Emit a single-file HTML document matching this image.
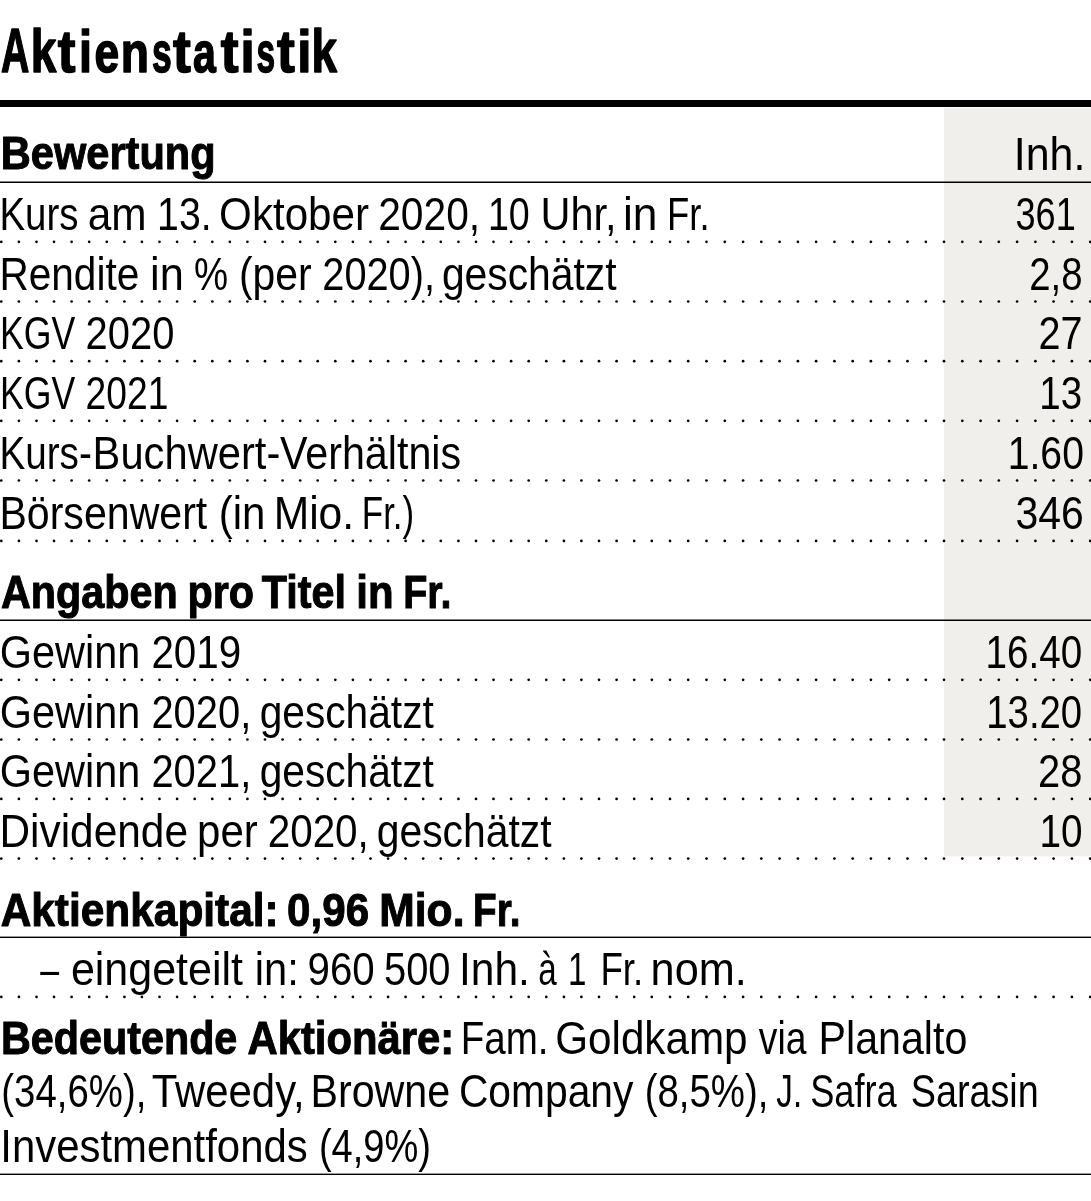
<!DOCTYPE html>
<html lang="de"><head><meta charset="utf-8"><title>Aktienstatistik</title>
<style>html,body{margin:0;padding:0;background:#fff;overflow:hidden}svg{display:block}text{font-family:"Liberation Sans",Arial,sans-serif;fill:#000}</style></head><body>
<svg width="1091" height="1201" viewBox="0 0 1091 1201">
<rect x="944" y="107.8" width="147" height="748.5" fill="#f0efeb"/>
<rect x="0" y="100" width="1091" height="7" fill="#000"/>
<rect x="0" y="181.5" width="1091" height="1.5" fill="#000"/>
<rect x="0" y="619.5" width="1091" height="1.5" fill="#000"/>
<rect x="0" y="936.6" width="1091" height="1.4" fill="#000"/>
<rect x="0" y="1173.6" width="1091" height="1.4" fill="#000"/>
<g fill="#000"><circle cx="1.3" cy="241.8" r="1.35"/><circle cx="18.9" cy="241.8" r="1.35"/><circle cx="36.5" cy="241.8" r="1.35"/><circle cx="54.0" cy="241.8" r="1.35"/><circle cx="71.6" cy="241.8" r="1.35"/><circle cx="89.2" cy="241.8" r="1.35"/><circle cx="106.8" cy="241.8" r="1.35"/><circle cx="124.4" cy="241.8" r="1.35"/><circle cx="141.9" cy="241.8" r="1.35"/><circle cx="159.5" cy="241.8" r="1.35"/><circle cx="177.1" cy="241.8" r="1.35"/><circle cx="194.7" cy="241.8" r="1.35"/><circle cx="212.3" cy="241.8" r="1.35"/><circle cx="229.8" cy="241.8" r="1.35"/><circle cx="247.4" cy="241.8" r="1.35"/><circle cx="265.0" cy="241.8" r="1.35"/><circle cx="282.6" cy="241.8" r="1.35"/><circle cx="300.2" cy="241.8" r="1.35"/><circle cx="317.7" cy="241.8" r="1.35"/><circle cx="335.3" cy="241.8" r="1.35"/><circle cx="352.9" cy="241.8" r="1.35"/><circle cx="370.5" cy="241.8" r="1.35"/><circle cx="388.1" cy="241.8" r="1.35"/><circle cx="405.6" cy="241.8" r="1.35"/><circle cx="423.2" cy="241.8" r="1.35"/><circle cx="440.8" cy="241.8" r="1.35"/><circle cx="458.4" cy="241.8" r="1.35"/><circle cx="476.0" cy="241.8" r="1.35"/><circle cx="493.5" cy="241.8" r="1.35"/><circle cx="511.1" cy="241.8" r="1.35"/><circle cx="528.7" cy="241.8" r="1.35"/><circle cx="546.3" cy="241.8" r="1.35"/><circle cx="563.9" cy="241.8" r="1.35"/><circle cx="581.4" cy="241.8" r="1.35"/><circle cx="599.0" cy="241.8" r="1.35"/><circle cx="616.6" cy="241.8" r="1.35"/><circle cx="634.2" cy="241.8" r="1.35"/><circle cx="651.8" cy="241.8" r="1.35"/><circle cx="670.0" cy="241.8" r="1.35"/><circle cx="688.2" cy="241.8" r="1.35"/><circle cx="706.5" cy="241.8" r="1.35"/><circle cx="724.8" cy="241.8" r="1.35"/><circle cx="743.1" cy="241.8" r="1.35"/><circle cx="761.3" cy="241.8" r="1.35"/><circle cx="779.6" cy="241.8" r="1.35"/><circle cx="797.9" cy="241.8" r="1.35"/><circle cx="816.1" cy="241.8" r="1.35"/><circle cx="834.4" cy="241.8" r="1.35"/><circle cx="852.7" cy="241.8" r="1.35"/><circle cx="870.9" cy="241.8" r="1.35"/><circle cx="889.2" cy="241.8" r="1.35"/><circle cx="907.5" cy="241.8" r="1.35"/><circle cx="925.8" cy="241.8" r="1.35"/><circle cx="944.0" cy="241.8" r="1.35"/><circle cx="962.3" cy="241.8" r="1.35"/><circle cx="980.6" cy="241.8" r="1.35"/><circle cx="998.8" cy="241.8" r="1.35"/><circle cx="1017.1" cy="241.8" r="1.35"/><circle cx="1035.4" cy="241.8" r="1.35"/><circle cx="1053.6" cy="241.8" r="1.35"/><circle cx="1071.9" cy="241.8" r="1.35"/><circle cx="1090.2" cy="241.8" r="1.35"/><circle cx="1.3" cy="301.5" r="1.35"/><circle cx="18.9" cy="301.5" r="1.35"/><circle cx="36.5" cy="301.5" r="1.35"/><circle cx="54.0" cy="301.5" r="1.35"/><circle cx="71.6" cy="301.5" r="1.35"/><circle cx="89.2" cy="301.5" r="1.35"/><circle cx="106.8" cy="301.5" r="1.35"/><circle cx="124.4" cy="301.5" r="1.35"/><circle cx="141.9" cy="301.5" r="1.35"/><circle cx="159.5" cy="301.5" r="1.35"/><circle cx="177.1" cy="301.5" r="1.35"/><circle cx="194.7" cy="301.5" r="1.35"/><circle cx="212.3" cy="301.5" r="1.35"/><circle cx="229.8" cy="301.5" r="1.35"/><circle cx="247.4" cy="301.5" r="1.35"/><circle cx="265.0" cy="301.5" r="1.35"/><circle cx="282.6" cy="301.5" r="1.35"/><circle cx="300.2" cy="301.5" r="1.35"/><circle cx="317.7" cy="301.5" r="1.35"/><circle cx="335.3" cy="301.5" r="1.35"/><circle cx="352.9" cy="301.5" r="1.35"/><circle cx="370.5" cy="301.5" r="1.35"/><circle cx="388.1" cy="301.5" r="1.35"/><circle cx="405.6" cy="301.5" r="1.35"/><circle cx="423.2" cy="301.5" r="1.35"/><circle cx="440.8" cy="301.5" r="1.35"/><circle cx="458.4" cy="301.5" r="1.35"/><circle cx="476.0" cy="301.5" r="1.35"/><circle cx="493.5" cy="301.5" r="1.35"/><circle cx="511.1" cy="301.5" r="1.35"/><circle cx="528.7" cy="301.5" r="1.35"/><circle cx="546.3" cy="301.5" r="1.35"/><circle cx="563.9" cy="301.5" r="1.35"/><circle cx="581.4" cy="301.5" r="1.35"/><circle cx="599.0" cy="301.5" r="1.35"/><circle cx="616.6" cy="301.5" r="1.35"/><circle cx="634.2" cy="301.5" r="1.35"/><circle cx="651.8" cy="301.5" r="1.35"/><circle cx="670.0" cy="301.5" r="1.35"/><circle cx="688.2" cy="301.5" r="1.35"/><circle cx="706.5" cy="301.5" r="1.35"/><circle cx="724.8" cy="301.5" r="1.35"/><circle cx="743.1" cy="301.5" r="1.35"/><circle cx="761.3" cy="301.5" r="1.35"/><circle cx="779.6" cy="301.5" r="1.35"/><circle cx="797.9" cy="301.5" r="1.35"/><circle cx="816.1" cy="301.5" r="1.35"/><circle cx="834.4" cy="301.5" r="1.35"/><circle cx="852.7" cy="301.5" r="1.35"/><circle cx="870.9" cy="301.5" r="1.35"/><circle cx="889.2" cy="301.5" r="1.35"/><circle cx="907.5" cy="301.5" r="1.35"/><circle cx="925.8" cy="301.5" r="1.35"/><circle cx="944.0" cy="301.5" r="1.35"/><circle cx="962.3" cy="301.5" r="1.35"/><circle cx="980.6" cy="301.5" r="1.35"/><circle cx="998.8" cy="301.5" r="1.35"/><circle cx="1017.1" cy="301.5" r="1.35"/><circle cx="1035.4" cy="301.5" r="1.35"/><circle cx="1053.6" cy="301.5" r="1.35"/><circle cx="1071.9" cy="301.5" r="1.35"/><circle cx="1090.2" cy="301.5" r="1.35"/><circle cx="1.3" cy="361.2" r="1.35"/><circle cx="18.9" cy="361.2" r="1.35"/><circle cx="36.5" cy="361.2" r="1.35"/><circle cx="54.0" cy="361.2" r="1.35"/><circle cx="71.6" cy="361.2" r="1.35"/><circle cx="89.2" cy="361.2" r="1.35"/><circle cx="106.8" cy="361.2" r="1.35"/><circle cx="124.4" cy="361.2" r="1.35"/><circle cx="141.9" cy="361.2" r="1.35"/><circle cx="159.5" cy="361.2" r="1.35"/><circle cx="177.1" cy="361.2" r="1.35"/><circle cx="194.7" cy="361.2" r="1.35"/><circle cx="212.3" cy="361.2" r="1.35"/><circle cx="229.8" cy="361.2" r="1.35"/><circle cx="247.4" cy="361.2" r="1.35"/><circle cx="265.0" cy="361.2" r="1.35"/><circle cx="282.6" cy="361.2" r="1.35"/><circle cx="300.2" cy="361.2" r="1.35"/><circle cx="317.7" cy="361.2" r="1.35"/><circle cx="335.3" cy="361.2" r="1.35"/><circle cx="352.9" cy="361.2" r="1.35"/><circle cx="370.5" cy="361.2" r="1.35"/><circle cx="388.1" cy="361.2" r="1.35"/><circle cx="405.6" cy="361.2" r="1.35"/><circle cx="423.2" cy="361.2" r="1.35"/><circle cx="440.8" cy="361.2" r="1.35"/><circle cx="458.4" cy="361.2" r="1.35"/><circle cx="476.0" cy="361.2" r="1.35"/><circle cx="493.5" cy="361.2" r="1.35"/><circle cx="511.1" cy="361.2" r="1.35"/><circle cx="528.7" cy="361.2" r="1.35"/><circle cx="546.3" cy="361.2" r="1.35"/><circle cx="563.9" cy="361.2" r="1.35"/><circle cx="581.4" cy="361.2" r="1.35"/><circle cx="599.0" cy="361.2" r="1.35"/><circle cx="616.6" cy="361.2" r="1.35"/><circle cx="634.2" cy="361.2" r="1.35"/><circle cx="651.8" cy="361.2" r="1.35"/><circle cx="670.0" cy="361.2" r="1.35"/><circle cx="688.2" cy="361.2" r="1.35"/><circle cx="706.5" cy="361.2" r="1.35"/><circle cx="724.8" cy="361.2" r="1.35"/><circle cx="743.1" cy="361.2" r="1.35"/><circle cx="761.3" cy="361.2" r="1.35"/><circle cx="779.6" cy="361.2" r="1.35"/><circle cx="797.9" cy="361.2" r="1.35"/><circle cx="816.1" cy="361.2" r="1.35"/><circle cx="834.4" cy="361.2" r="1.35"/><circle cx="852.7" cy="361.2" r="1.35"/><circle cx="870.9" cy="361.2" r="1.35"/><circle cx="889.2" cy="361.2" r="1.35"/><circle cx="907.5" cy="361.2" r="1.35"/><circle cx="925.8" cy="361.2" r="1.35"/><circle cx="944.0" cy="361.2" r="1.35"/><circle cx="962.3" cy="361.2" r="1.35"/><circle cx="980.6" cy="361.2" r="1.35"/><circle cx="998.8" cy="361.2" r="1.35"/><circle cx="1017.1" cy="361.2" r="1.35"/><circle cx="1035.4" cy="361.2" r="1.35"/><circle cx="1053.6" cy="361.2" r="1.35"/><circle cx="1071.9" cy="361.2" r="1.35"/><circle cx="1090.2" cy="361.2" r="1.35"/><circle cx="1.3" cy="420.8" r="1.35"/><circle cx="18.9" cy="420.8" r="1.35"/><circle cx="36.5" cy="420.8" r="1.35"/><circle cx="54.0" cy="420.8" r="1.35"/><circle cx="71.6" cy="420.8" r="1.35"/><circle cx="89.2" cy="420.8" r="1.35"/><circle cx="106.8" cy="420.8" r="1.35"/><circle cx="124.4" cy="420.8" r="1.35"/><circle cx="141.9" cy="420.8" r="1.35"/><circle cx="159.5" cy="420.8" r="1.35"/><circle cx="177.1" cy="420.8" r="1.35"/><circle cx="194.7" cy="420.8" r="1.35"/><circle cx="212.3" cy="420.8" r="1.35"/><circle cx="229.8" cy="420.8" r="1.35"/><circle cx="247.4" cy="420.8" r="1.35"/><circle cx="265.0" cy="420.8" r="1.35"/><circle cx="282.6" cy="420.8" r="1.35"/><circle cx="300.2" cy="420.8" r="1.35"/><circle cx="317.7" cy="420.8" r="1.35"/><circle cx="335.3" cy="420.8" r="1.35"/><circle cx="352.9" cy="420.8" r="1.35"/><circle cx="370.5" cy="420.8" r="1.35"/><circle cx="388.1" cy="420.8" r="1.35"/><circle cx="405.6" cy="420.8" r="1.35"/><circle cx="423.2" cy="420.8" r="1.35"/><circle cx="440.8" cy="420.8" r="1.35"/><circle cx="458.4" cy="420.8" r="1.35"/><circle cx="476.0" cy="420.8" r="1.35"/><circle cx="493.5" cy="420.8" r="1.35"/><circle cx="511.1" cy="420.8" r="1.35"/><circle cx="528.7" cy="420.8" r="1.35"/><circle cx="546.3" cy="420.8" r="1.35"/><circle cx="563.9" cy="420.8" r="1.35"/><circle cx="581.4" cy="420.8" r="1.35"/><circle cx="599.0" cy="420.8" r="1.35"/><circle cx="616.6" cy="420.8" r="1.35"/><circle cx="634.2" cy="420.8" r="1.35"/><circle cx="651.8" cy="420.8" r="1.35"/><circle cx="670.0" cy="420.8" r="1.35"/><circle cx="688.2" cy="420.8" r="1.35"/><circle cx="706.5" cy="420.8" r="1.35"/><circle cx="724.8" cy="420.8" r="1.35"/><circle cx="743.1" cy="420.8" r="1.35"/><circle cx="761.3" cy="420.8" r="1.35"/><circle cx="779.6" cy="420.8" r="1.35"/><circle cx="797.9" cy="420.8" r="1.35"/><circle cx="816.1" cy="420.8" r="1.35"/><circle cx="834.4" cy="420.8" r="1.35"/><circle cx="852.7" cy="420.8" r="1.35"/><circle cx="870.9" cy="420.8" r="1.35"/><circle cx="889.2" cy="420.8" r="1.35"/><circle cx="907.5" cy="420.8" r="1.35"/><circle cx="925.8" cy="420.8" r="1.35"/><circle cx="944.0" cy="420.8" r="1.35"/><circle cx="962.3" cy="420.8" r="1.35"/><circle cx="980.6" cy="420.8" r="1.35"/><circle cx="998.8" cy="420.8" r="1.35"/><circle cx="1017.1" cy="420.8" r="1.35"/><circle cx="1035.4" cy="420.8" r="1.35"/><circle cx="1053.6" cy="420.8" r="1.35"/><circle cx="1071.9" cy="420.8" r="1.35"/><circle cx="1090.2" cy="420.8" r="1.35"/><circle cx="1.3" cy="480.5" r="1.35"/><circle cx="18.9" cy="480.5" r="1.35"/><circle cx="36.5" cy="480.5" r="1.35"/><circle cx="54.0" cy="480.5" r="1.35"/><circle cx="71.6" cy="480.5" r="1.35"/><circle cx="89.2" cy="480.5" r="1.35"/><circle cx="106.8" cy="480.5" r="1.35"/><circle cx="124.4" cy="480.5" r="1.35"/><circle cx="141.9" cy="480.5" r="1.35"/><circle cx="159.5" cy="480.5" r="1.35"/><circle cx="177.1" cy="480.5" r="1.35"/><circle cx="194.7" cy="480.5" r="1.35"/><circle cx="212.3" cy="480.5" r="1.35"/><circle cx="229.8" cy="480.5" r="1.35"/><circle cx="247.4" cy="480.5" r="1.35"/><circle cx="265.0" cy="480.5" r="1.35"/><circle cx="282.6" cy="480.5" r="1.35"/><circle cx="300.2" cy="480.5" r="1.35"/><circle cx="317.7" cy="480.5" r="1.35"/><circle cx="335.3" cy="480.5" r="1.35"/><circle cx="352.9" cy="480.5" r="1.35"/><circle cx="370.5" cy="480.5" r="1.35"/><circle cx="388.1" cy="480.5" r="1.35"/><circle cx="405.6" cy="480.5" r="1.35"/><circle cx="423.2" cy="480.5" r="1.35"/><circle cx="440.8" cy="480.5" r="1.35"/><circle cx="458.4" cy="480.5" r="1.35"/><circle cx="476.0" cy="480.5" r="1.35"/><circle cx="493.5" cy="480.5" r="1.35"/><circle cx="511.1" cy="480.5" r="1.35"/><circle cx="528.7" cy="480.5" r="1.35"/><circle cx="546.3" cy="480.5" r="1.35"/><circle cx="563.9" cy="480.5" r="1.35"/><circle cx="581.4" cy="480.5" r="1.35"/><circle cx="599.0" cy="480.5" r="1.35"/><circle cx="616.6" cy="480.5" r="1.35"/><circle cx="634.2" cy="480.5" r="1.35"/><circle cx="651.8" cy="480.5" r="1.35"/><circle cx="670.0" cy="480.5" r="1.35"/><circle cx="688.2" cy="480.5" r="1.35"/><circle cx="706.5" cy="480.5" r="1.35"/><circle cx="724.8" cy="480.5" r="1.35"/><circle cx="743.1" cy="480.5" r="1.35"/><circle cx="761.3" cy="480.5" r="1.35"/><circle cx="779.6" cy="480.5" r="1.35"/><circle cx="797.9" cy="480.5" r="1.35"/><circle cx="816.1" cy="480.5" r="1.35"/><circle cx="834.4" cy="480.5" r="1.35"/><circle cx="852.7" cy="480.5" r="1.35"/><circle cx="870.9" cy="480.5" r="1.35"/><circle cx="889.2" cy="480.5" r="1.35"/><circle cx="907.5" cy="480.5" r="1.35"/><circle cx="925.8" cy="480.5" r="1.35"/><circle cx="944.0" cy="480.5" r="1.35"/><circle cx="962.3" cy="480.5" r="1.35"/><circle cx="980.6" cy="480.5" r="1.35"/><circle cx="998.8" cy="480.5" r="1.35"/><circle cx="1017.1" cy="480.5" r="1.35"/><circle cx="1035.4" cy="480.5" r="1.35"/><circle cx="1053.6" cy="480.5" r="1.35"/><circle cx="1071.9" cy="480.5" r="1.35"/><circle cx="1090.2" cy="480.5" r="1.35"/><circle cx="1.3" cy="540.9" r="1.35"/><circle cx="18.9" cy="540.9" r="1.35"/><circle cx="36.5" cy="540.9" r="1.35"/><circle cx="54.0" cy="540.9" r="1.35"/><circle cx="71.6" cy="540.9" r="1.35"/><circle cx="89.2" cy="540.9" r="1.35"/><circle cx="106.8" cy="540.9" r="1.35"/><circle cx="124.4" cy="540.9" r="1.35"/><circle cx="141.9" cy="540.9" r="1.35"/><circle cx="159.5" cy="540.9" r="1.35"/><circle cx="177.1" cy="540.9" r="1.35"/><circle cx="194.7" cy="540.9" r="1.35"/><circle cx="212.3" cy="540.9" r="1.35"/><circle cx="229.8" cy="540.9" r="1.35"/><circle cx="247.4" cy="540.9" r="1.35"/><circle cx="265.0" cy="540.9" r="1.35"/><circle cx="282.6" cy="540.9" r="1.35"/><circle cx="300.2" cy="540.9" r="1.35"/><circle cx="317.7" cy="540.9" r="1.35"/><circle cx="335.3" cy="540.9" r="1.35"/><circle cx="352.9" cy="540.9" r="1.35"/><circle cx="370.5" cy="540.9" r="1.35"/><circle cx="388.1" cy="540.9" r="1.35"/><circle cx="405.6" cy="540.9" r="1.35"/><circle cx="423.2" cy="540.9" r="1.35"/><circle cx="440.8" cy="540.9" r="1.35"/><circle cx="458.4" cy="540.9" r="1.35"/><circle cx="476.0" cy="540.9" r="1.35"/><circle cx="493.5" cy="540.9" r="1.35"/><circle cx="511.1" cy="540.9" r="1.35"/><circle cx="528.7" cy="540.9" r="1.35"/><circle cx="546.3" cy="540.9" r="1.35"/><circle cx="563.9" cy="540.9" r="1.35"/><circle cx="581.4" cy="540.9" r="1.35"/><circle cx="599.0" cy="540.9" r="1.35"/><circle cx="616.6" cy="540.9" r="1.35"/><circle cx="634.2" cy="540.9" r="1.35"/><circle cx="651.8" cy="540.9" r="1.35"/><circle cx="670.0" cy="540.9" r="1.35"/><circle cx="688.2" cy="540.9" r="1.35"/><circle cx="706.5" cy="540.9" r="1.35"/><circle cx="724.8" cy="540.9" r="1.35"/><circle cx="743.1" cy="540.9" r="1.35"/><circle cx="761.3" cy="540.9" r="1.35"/><circle cx="779.6" cy="540.9" r="1.35"/><circle cx="797.9" cy="540.9" r="1.35"/><circle cx="816.1" cy="540.9" r="1.35"/><circle cx="834.4" cy="540.9" r="1.35"/><circle cx="852.7" cy="540.9" r="1.35"/><circle cx="870.9" cy="540.9" r="1.35"/><circle cx="889.2" cy="540.9" r="1.35"/><circle cx="907.5" cy="540.9" r="1.35"/><circle cx="925.8" cy="540.9" r="1.35"/><circle cx="944.0" cy="540.9" r="1.35"/><circle cx="962.3" cy="540.9" r="1.35"/><circle cx="980.6" cy="540.9" r="1.35"/><circle cx="998.8" cy="540.9" r="1.35"/><circle cx="1017.1" cy="540.9" r="1.35"/><circle cx="1035.4" cy="540.9" r="1.35"/><circle cx="1053.6" cy="540.9" r="1.35"/><circle cx="1071.9" cy="540.9" r="1.35"/><circle cx="1090.2" cy="540.9" r="1.35"/><circle cx="1.3" cy="679.8" r="1.35"/><circle cx="18.9" cy="679.8" r="1.35"/><circle cx="36.5" cy="679.8" r="1.35"/><circle cx="54.0" cy="679.8" r="1.35"/><circle cx="71.6" cy="679.8" r="1.35"/><circle cx="89.2" cy="679.8" r="1.35"/><circle cx="106.8" cy="679.8" r="1.35"/><circle cx="124.4" cy="679.8" r="1.35"/><circle cx="141.9" cy="679.8" r="1.35"/><circle cx="159.5" cy="679.8" r="1.35"/><circle cx="177.1" cy="679.8" r="1.35"/><circle cx="194.7" cy="679.8" r="1.35"/><circle cx="212.3" cy="679.8" r="1.35"/><circle cx="229.8" cy="679.8" r="1.35"/><circle cx="247.4" cy="679.8" r="1.35"/><circle cx="265.0" cy="679.8" r="1.35"/><circle cx="282.6" cy="679.8" r="1.35"/><circle cx="300.2" cy="679.8" r="1.35"/><circle cx="317.7" cy="679.8" r="1.35"/><circle cx="335.3" cy="679.8" r="1.35"/><circle cx="352.9" cy="679.8" r="1.35"/><circle cx="370.5" cy="679.8" r="1.35"/><circle cx="388.1" cy="679.8" r="1.35"/><circle cx="405.6" cy="679.8" r="1.35"/><circle cx="423.2" cy="679.8" r="1.35"/><circle cx="440.8" cy="679.8" r="1.35"/><circle cx="458.4" cy="679.8" r="1.35"/><circle cx="476.0" cy="679.8" r="1.35"/><circle cx="493.5" cy="679.8" r="1.35"/><circle cx="511.1" cy="679.8" r="1.35"/><circle cx="528.7" cy="679.8" r="1.35"/><circle cx="546.3" cy="679.8" r="1.35"/><circle cx="563.9" cy="679.8" r="1.35"/><circle cx="581.4" cy="679.8" r="1.35"/><circle cx="599.0" cy="679.8" r="1.35"/><circle cx="616.6" cy="679.8" r="1.35"/><circle cx="634.2" cy="679.8" r="1.35"/><circle cx="651.8" cy="679.8" r="1.35"/><circle cx="670.0" cy="679.8" r="1.35"/><circle cx="688.2" cy="679.8" r="1.35"/><circle cx="706.5" cy="679.8" r="1.35"/><circle cx="724.8" cy="679.8" r="1.35"/><circle cx="743.1" cy="679.8" r="1.35"/><circle cx="761.3" cy="679.8" r="1.35"/><circle cx="779.6" cy="679.8" r="1.35"/><circle cx="797.9" cy="679.8" r="1.35"/><circle cx="816.1" cy="679.8" r="1.35"/><circle cx="834.4" cy="679.8" r="1.35"/><circle cx="852.7" cy="679.8" r="1.35"/><circle cx="870.9" cy="679.8" r="1.35"/><circle cx="889.2" cy="679.8" r="1.35"/><circle cx="907.5" cy="679.8" r="1.35"/><circle cx="925.8" cy="679.8" r="1.35"/><circle cx="944.0" cy="679.8" r="1.35"/><circle cx="962.3" cy="679.8" r="1.35"/><circle cx="980.6" cy="679.8" r="1.35"/><circle cx="998.8" cy="679.8" r="1.35"/><circle cx="1017.1" cy="679.8" r="1.35"/><circle cx="1035.4" cy="679.8" r="1.35"/><circle cx="1053.6" cy="679.8" r="1.35"/><circle cx="1071.9" cy="679.8" r="1.35"/><circle cx="1090.2" cy="679.8" r="1.35"/><circle cx="1.3" cy="739.5" r="1.35"/><circle cx="18.9" cy="739.5" r="1.35"/><circle cx="36.5" cy="739.5" r="1.35"/><circle cx="54.0" cy="739.5" r="1.35"/><circle cx="71.6" cy="739.5" r="1.35"/><circle cx="89.2" cy="739.5" r="1.35"/><circle cx="106.8" cy="739.5" r="1.35"/><circle cx="124.4" cy="739.5" r="1.35"/><circle cx="141.9" cy="739.5" r="1.35"/><circle cx="159.5" cy="739.5" r="1.35"/><circle cx="177.1" cy="739.5" r="1.35"/><circle cx="194.7" cy="739.5" r="1.35"/><circle cx="212.3" cy="739.5" r="1.35"/><circle cx="229.8" cy="739.5" r="1.35"/><circle cx="247.4" cy="739.5" r="1.35"/><circle cx="265.0" cy="739.5" r="1.35"/><circle cx="282.6" cy="739.5" r="1.35"/><circle cx="300.2" cy="739.5" r="1.35"/><circle cx="317.7" cy="739.5" r="1.35"/><circle cx="335.3" cy="739.5" r="1.35"/><circle cx="352.9" cy="739.5" r="1.35"/><circle cx="370.5" cy="739.5" r="1.35"/><circle cx="388.1" cy="739.5" r="1.35"/><circle cx="405.6" cy="739.5" r="1.35"/><circle cx="423.2" cy="739.5" r="1.35"/><circle cx="440.8" cy="739.5" r="1.35"/><circle cx="458.4" cy="739.5" r="1.35"/><circle cx="476.0" cy="739.5" r="1.35"/><circle cx="493.5" cy="739.5" r="1.35"/><circle cx="511.1" cy="739.5" r="1.35"/><circle cx="528.7" cy="739.5" r="1.35"/><circle cx="546.3" cy="739.5" r="1.35"/><circle cx="563.9" cy="739.5" r="1.35"/><circle cx="581.4" cy="739.5" r="1.35"/><circle cx="599.0" cy="739.5" r="1.35"/><circle cx="616.6" cy="739.5" r="1.35"/><circle cx="634.2" cy="739.5" r="1.35"/><circle cx="651.8" cy="739.5" r="1.35"/><circle cx="670.0" cy="739.5" r="1.35"/><circle cx="688.2" cy="739.5" r="1.35"/><circle cx="706.5" cy="739.5" r="1.35"/><circle cx="724.8" cy="739.5" r="1.35"/><circle cx="743.1" cy="739.5" r="1.35"/><circle cx="761.3" cy="739.5" r="1.35"/><circle cx="779.6" cy="739.5" r="1.35"/><circle cx="797.9" cy="739.5" r="1.35"/><circle cx="816.1" cy="739.5" r="1.35"/><circle cx="834.4" cy="739.5" r="1.35"/><circle cx="852.7" cy="739.5" r="1.35"/><circle cx="870.9" cy="739.5" r="1.35"/><circle cx="889.2" cy="739.5" r="1.35"/><circle cx="907.5" cy="739.5" r="1.35"/><circle cx="925.8" cy="739.5" r="1.35"/><circle cx="944.0" cy="739.5" r="1.35"/><circle cx="962.3" cy="739.5" r="1.35"/><circle cx="980.6" cy="739.5" r="1.35"/><circle cx="998.8" cy="739.5" r="1.35"/><circle cx="1017.1" cy="739.5" r="1.35"/><circle cx="1035.4" cy="739.5" r="1.35"/><circle cx="1053.6" cy="739.5" r="1.35"/><circle cx="1071.9" cy="739.5" r="1.35"/><circle cx="1090.2" cy="739.5" r="1.35"/><circle cx="1.3" cy="798.9" r="1.35"/><circle cx="18.9" cy="798.9" r="1.35"/><circle cx="36.5" cy="798.9" r="1.35"/><circle cx="54.0" cy="798.9" r="1.35"/><circle cx="71.6" cy="798.9" r="1.35"/><circle cx="89.2" cy="798.9" r="1.35"/><circle cx="106.8" cy="798.9" r="1.35"/><circle cx="124.4" cy="798.9" r="1.35"/><circle cx="141.9" cy="798.9" r="1.35"/><circle cx="159.5" cy="798.9" r="1.35"/><circle cx="177.1" cy="798.9" r="1.35"/><circle cx="194.7" cy="798.9" r="1.35"/><circle cx="212.3" cy="798.9" r="1.35"/><circle cx="229.8" cy="798.9" r="1.35"/><circle cx="247.4" cy="798.9" r="1.35"/><circle cx="265.0" cy="798.9" r="1.35"/><circle cx="282.6" cy="798.9" r="1.35"/><circle cx="300.2" cy="798.9" r="1.35"/><circle cx="317.7" cy="798.9" r="1.35"/><circle cx="335.3" cy="798.9" r="1.35"/><circle cx="352.9" cy="798.9" r="1.35"/><circle cx="370.5" cy="798.9" r="1.35"/><circle cx="388.1" cy="798.9" r="1.35"/><circle cx="405.6" cy="798.9" r="1.35"/><circle cx="423.2" cy="798.9" r="1.35"/><circle cx="440.8" cy="798.9" r="1.35"/><circle cx="458.4" cy="798.9" r="1.35"/><circle cx="476.0" cy="798.9" r="1.35"/><circle cx="493.5" cy="798.9" r="1.35"/><circle cx="511.1" cy="798.9" r="1.35"/><circle cx="528.7" cy="798.9" r="1.35"/><circle cx="546.3" cy="798.9" r="1.35"/><circle cx="563.9" cy="798.9" r="1.35"/><circle cx="581.4" cy="798.9" r="1.35"/><circle cx="599.0" cy="798.9" r="1.35"/><circle cx="616.6" cy="798.9" r="1.35"/><circle cx="634.2" cy="798.9" r="1.35"/><circle cx="651.8" cy="798.9" r="1.35"/><circle cx="670.0" cy="798.9" r="1.35"/><circle cx="688.2" cy="798.9" r="1.35"/><circle cx="706.5" cy="798.9" r="1.35"/><circle cx="724.8" cy="798.9" r="1.35"/><circle cx="743.1" cy="798.9" r="1.35"/><circle cx="761.3" cy="798.9" r="1.35"/><circle cx="779.6" cy="798.9" r="1.35"/><circle cx="797.9" cy="798.9" r="1.35"/><circle cx="816.1" cy="798.9" r="1.35"/><circle cx="834.4" cy="798.9" r="1.35"/><circle cx="852.7" cy="798.9" r="1.35"/><circle cx="870.9" cy="798.9" r="1.35"/><circle cx="889.2" cy="798.9" r="1.35"/><circle cx="907.5" cy="798.9" r="1.35"/><circle cx="925.8" cy="798.9" r="1.35"/><circle cx="944.0" cy="798.9" r="1.35"/><circle cx="962.3" cy="798.9" r="1.35"/><circle cx="980.6" cy="798.9" r="1.35"/><circle cx="998.8" cy="798.9" r="1.35"/><circle cx="1017.1" cy="798.9" r="1.35"/><circle cx="1035.4" cy="798.9" r="1.35"/><circle cx="1053.6" cy="798.9" r="1.35"/><circle cx="1071.9" cy="798.9" r="1.35"/><circle cx="1090.2" cy="798.9" r="1.35"/><circle cx="1.3" cy="858.6" r="1.35"/><circle cx="18.9" cy="858.6" r="1.35"/><circle cx="36.5" cy="858.6" r="1.35"/><circle cx="54.0" cy="858.6" r="1.35"/><circle cx="71.6" cy="858.6" r="1.35"/><circle cx="89.2" cy="858.6" r="1.35"/><circle cx="106.8" cy="858.6" r="1.35"/><circle cx="124.4" cy="858.6" r="1.35"/><circle cx="141.9" cy="858.6" r="1.35"/><circle cx="159.5" cy="858.6" r="1.35"/><circle cx="177.1" cy="858.6" r="1.35"/><circle cx="194.7" cy="858.6" r="1.35"/><circle cx="212.3" cy="858.6" r="1.35"/><circle cx="229.8" cy="858.6" r="1.35"/><circle cx="247.4" cy="858.6" r="1.35"/><circle cx="265.0" cy="858.6" r="1.35"/><circle cx="282.6" cy="858.6" r="1.35"/><circle cx="300.2" cy="858.6" r="1.35"/><circle cx="317.7" cy="858.6" r="1.35"/><circle cx="335.3" cy="858.6" r="1.35"/><circle cx="352.9" cy="858.6" r="1.35"/><circle cx="370.5" cy="858.6" r="1.35"/><circle cx="388.1" cy="858.6" r="1.35"/><circle cx="405.6" cy="858.6" r="1.35"/><circle cx="423.2" cy="858.6" r="1.35"/><circle cx="440.8" cy="858.6" r="1.35"/><circle cx="458.4" cy="858.6" r="1.35"/><circle cx="476.0" cy="858.6" r="1.35"/><circle cx="493.5" cy="858.6" r="1.35"/><circle cx="511.1" cy="858.6" r="1.35"/><circle cx="528.7" cy="858.6" r="1.35"/><circle cx="546.3" cy="858.6" r="1.35"/><circle cx="563.9" cy="858.6" r="1.35"/><circle cx="581.4" cy="858.6" r="1.35"/><circle cx="599.0" cy="858.6" r="1.35"/><circle cx="616.6" cy="858.6" r="1.35"/><circle cx="634.2" cy="858.6" r="1.35"/><circle cx="651.8" cy="858.6" r="1.35"/><circle cx="670.0" cy="858.6" r="1.35"/><circle cx="688.2" cy="858.6" r="1.35"/><circle cx="706.5" cy="858.6" r="1.35"/><circle cx="724.8" cy="858.6" r="1.35"/><circle cx="743.1" cy="858.6" r="1.35"/><circle cx="761.3" cy="858.6" r="1.35"/><circle cx="779.6" cy="858.6" r="1.35"/><circle cx="797.9" cy="858.6" r="1.35"/><circle cx="816.1" cy="858.6" r="1.35"/><circle cx="834.4" cy="858.6" r="1.35"/><circle cx="852.7" cy="858.6" r="1.35"/><circle cx="870.9" cy="858.6" r="1.35"/><circle cx="889.2" cy="858.6" r="1.35"/><circle cx="907.5" cy="858.6" r="1.35"/><circle cx="925.8" cy="858.6" r="1.35"/><circle cx="944.0" cy="858.6" r="1.35"/><circle cx="962.3" cy="858.6" r="1.35"/><circle cx="980.6" cy="858.6" r="1.35"/><circle cx="998.8" cy="858.6" r="1.35"/><circle cx="1017.1" cy="858.6" r="1.35"/><circle cx="1035.4" cy="858.6" r="1.35"/><circle cx="1053.6" cy="858.6" r="1.35"/><circle cx="1071.9" cy="858.6" r="1.35"/><circle cx="1090.2" cy="858.6" r="1.35"/><circle cx="1.3" cy="996.9" r="1.35"/><circle cx="18.9" cy="996.9" r="1.35"/><circle cx="36.5" cy="996.9" r="1.35"/><circle cx="54.0" cy="996.9" r="1.35"/><circle cx="71.6" cy="996.9" r="1.35"/><circle cx="89.2" cy="996.9" r="1.35"/><circle cx="106.8" cy="996.9" r="1.35"/><circle cx="124.4" cy="996.9" r="1.35"/><circle cx="141.9" cy="996.9" r="1.35"/><circle cx="159.5" cy="996.9" r="1.35"/><circle cx="177.1" cy="996.9" r="1.35"/><circle cx="194.7" cy="996.9" r="1.35"/><circle cx="212.3" cy="996.9" r="1.35"/><circle cx="229.8" cy="996.9" r="1.35"/><circle cx="247.4" cy="996.9" r="1.35"/><circle cx="265.0" cy="996.9" r="1.35"/><circle cx="282.6" cy="996.9" r="1.35"/><circle cx="300.2" cy="996.9" r="1.35"/><circle cx="317.7" cy="996.9" r="1.35"/><circle cx="335.3" cy="996.9" r="1.35"/><circle cx="352.9" cy="996.9" r="1.35"/><circle cx="370.5" cy="996.9" r="1.35"/><circle cx="388.1" cy="996.9" r="1.35"/><circle cx="405.6" cy="996.9" r="1.35"/><circle cx="423.2" cy="996.9" r="1.35"/><circle cx="440.8" cy="996.9" r="1.35"/><circle cx="458.4" cy="996.9" r="1.35"/><circle cx="476.0" cy="996.9" r="1.35"/><circle cx="493.5" cy="996.9" r="1.35"/><circle cx="511.1" cy="996.9" r="1.35"/><circle cx="528.7" cy="996.9" r="1.35"/><circle cx="546.3" cy="996.9" r="1.35"/><circle cx="563.9" cy="996.9" r="1.35"/><circle cx="581.4" cy="996.9" r="1.35"/><circle cx="599.0" cy="996.9" r="1.35"/><circle cx="616.6" cy="996.9" r="1.35"/><circle cx="634.2" cy="996.9" r="1.35"/><circle cx="651.8" cy="996.9" r="1.35"/><circle cx="670.0" cy="996.9" r="1.35"/><circle cx="688.2" cy="996.9" r="1.35"/><circle cx="706.5" cy="996.9" r="1.35"/><circle cx="724.8" cy="996.9" r="1.35"/><circle cx="743.1" cy="996.9" r="1.35"/><circle cx="761.3" cy="996.9" r="1.35"/><circle cx="779.6" cy="996.9" r="1.35"/><circle cx="797.9" cy="996.9" r="1.35"/><circle cx="816.1" cy="996.9" r="1.35"/><circle cx="834.4" cy="996.9" r="1.35"/><circle cx="852.7" cy="996.9" r="1.35"/><circle cx="870.9" cy="996.9" r="1.35"/><circle cx="889.2" cy="996.9" r="1.35"/><circle cx="907.5" cy="996.9" r="1.35"/><circle cx="925.8" cy="996.9" r="1.35"/><circle cx="944.0" cy="996.9" r="1.35"/><circle cx="962.3" cy="996.9" r="1.35"/><circle cx="980.6" cy="996.9" r="1.35"/><circle cx="998.8" cy="996.9" r="1.35"/><circle cx="1017.1" cy="996.9" r="1.35"/><circle cx="1035.4" cy="996.9" r="1.35"/><circle cx="1053.6" cy="996.9" r="1.35"/><circle cx="1071.9" cy="996.9" r="1.35"/><circle cx="1090.2" cy="996.9" r="1.35"/></g>
<text y="72.10000000000001" font-weight="bold" stroke="#000" stroke-width="1.6" stroke-linejoin="round"><tspan x="0.92" font-size="63.8" textLength="28.31" lengthAdjust="spacingAndGlyphs">A</tspan><tspan x="30.69" font-size="61.0" textLength="25.56" lengthAdjust="spacingAndGlyphs">k</tspan><tspan x="57.75" font-size="59.6" textLength="17.70" lengthAdjust="spacingAndGlyphs">t</tspan><tspan x="78.94" font-size="59.3" textLength="12.96" lengthAdjust="spacingAndGlyphs">i</tspan><tspan x="94.47" font-size="56.9" textLength="24.65" lengthAdjust="spacingAndGlyphs">e</tspan><tspan x="120.66" font-size="56.8" textLength="28.21" lengthAdjust="spacingAndGlyphs">n</tspan><tspan x="152.05" font-size="56.8" textLength="19.70" lengthAdjust="spacingAndGlyphs">s</tspan><tspan x="172.95" font-size="59.6" textLength="17.81" lengthAdjust="spacingAndGlyphs">t</tspan><tspan x="192.90" font-size="56.9" textLength="22.84" lengthAdjust="spacingAndGlyphs">a</tspan><tspan x="220.65" font-size="59.6" textLength="17.81" lengthAdjust="spacingAndGlyphs">t</tspan><tspan x="240.44" font-size="59.3" textLength="14.17" lengthAdjust="spacingAndGlyphs">i</tspan><tspan x="256.53" font-size="56.8" textLength="18.54" lengthAdjust="spacingAndGlyphs">s</tspan><tspan x="277.05" font-size="59.6" textLength="17.81" lengthAdjust="spacingAndGlyphs">t</tspan><tspan x="297.24" font-size="59.3" textLength="14.17" lengthAdjust="spacingAndGlyphs">i</tspan><tspan x="311.60" font-size="61.0" textLength="25.45" lengthAdjust="spacingAndGlyphs">k</tspan></text>
<text y="169.2" font-size="46" font-weight="bold" stroke="#000" stroke-width="1.0" stroke-linejoin="round"><tspan x="0.80" textLength="214.82" lengthAdjust="spacingAndGlyphs">Bewertung</tspan></text>
<text y="170.0" font-size="46"><tspan x="1013.80" textLength="71.54" lengthAdjust="spacingAndGlyphs">Inh.</tspan></text>
<text y="229.5" font-size="46"><tspan x="-0.60" textLength="79.08" lengthAdjust="spacingAndGlyphs">Kurs</tspan> <tspan x="87.70" textLength="58.88" lengthAdjust="spacingAndGlyphs">am</tspan> <tspan x="157.10" textLength="54.48" lengthAdjust="spacingAndGlyphs">13.</tspan> <tspan x="219.10" textLength="149.96" lengthAdjust="spacingAndGlyphs">Oktober</tspan> <tspan x="378.20" textLength="101.98" lengthAdjust="spacingAndGlyphs">2020,</tspan> <tspan x="487.90" textLength="41.88" lengthAdjust="spacingAndGlyphs">10</tspan> <tspan x="540.50" textLength="76.03" lengthAdjust="spacingAndGlyphs">Uhr,</tspan> <tspan x="622.90" textLength="34.52" lengthAdjust="spacingAndGlyphs">in</tspan> <tspan x="667.00" textLength="42.53" lengthAdjust="spacingAndGlyphs">Fr.</tspan></text>
<text y="229.8" font-size="46"><tspan x="1015.50" textLength="60.19" lengthAdjust="spacingAndGlyphs">361</tspan></text>
<text y="289.5" font-size="46"><tspan x="-0.60" textLength="139.89" lengthAdjust="spacingAndGlyphs">Rendite</tspan> <tspan x="150.10" textLength="33.77" lengthAdjust="spacingAndGlyphs">in</tspan> <tspan x="194.00" textLength="34.13" lengthAdjust="spacingAndGlyphs">%</tspan> <tspan x="238.90" textLength="72.63" lengthAdjust="spacingAndGlyphs">(per</tspan> <tspan x="322.30" textLength="112.69" lengthAdjust="spacingAndGlyphs">2020),</tspan> <tspan x="441.90" textLength="174.73" lengthAdjust="spacingAndGlyphs">geschätzt</tspan></text>
<text y="289.5" font-size="46"><tspan x="1029.20" textLength="53.30" lengthAdjust="spacingAndGlyphs">2,8</tspan></text>
<text y="348.9" font-size="46"><tspan x="0.00" textLength="75.24" lengthAdjust="spacingAndGlyphs">KGV</tspan> <tspan x="85.60" textLength="88.74" lengthAdjust="spacingAndGlyphs">2020</tspan></text>
<text y="348.9" font-size="46"><tspan x="1038.50" textLength="44.02" lengthAdjust="spacingAndGlyphs">27</tspan></text>
<text y="408.6" font-size="46"><tspan x="0.00" textLength="75.24" lengthAdjust="spacingAndGlyphs">KGV</tspan> <tspan x="85.60" textLength="82.77" lengthAdjust="spacingAndGlyphs">2021</tspan></text>
<text y="408.6" font-size="46"><tspan x="1039.30" textLength="42.82" lengthAdjust="spacingAndGlyphs">13</tspan></text>
<text y="468.8" font-size="46"><tspan x="-0.60" textLength="92.38" lengthAdjust="spacingAndGlyphs">Kurs-</tspan><tspan x="92.60" textLength="187.76" lengthAdjust="spacingAndGlyphs">Buchwert-</tspan><tspan x="280.00" textLength="181.11" lengthAdjust="spacingAndGlyphs">Verhältnis</tspan></text>
<text y="468.8" font-size="46"><tspan x="1007.70" textLength="76.26" lengthAdjust="spacingAndGlyphs">1.60</tspan></text>
<text y="529.4" font-size="46"><tspan x="-0.60" textLength="207.89" lengthAdjust="spacingAndGlyphs">Börsenwert</tspan> <tspan x="218.80" textLength="46.62" lengthAdjust="spacingAndGlyphs">(in</tspan> <tspan x="273.70" textLength="80.42" lengthAdjust="spacingAndGlyphs">Mio.</tspan> <tspan x="361.80" textLength="52.39" lengthAdjust="spacingAndGlyphs">Fr.)</tspan></text>
<text y="529.4" font-size="46"><tspan x="1015.40" textLength="68.25" lengthAdjust="spacingAndGlyphs">346</tspan></text>
<text y="607.6" font-size="46" font-weight="bold" stroke="#000" stroke-width="1.0" stroke-linejoin="round"><tspan x="1.00" textLength="176.67" lengthAdjust="spacingAndGlyphs">Angaben</tspan> <tspan x="187.50" textLength="66.59" lengthAdjust="spacingAndGlyphs">pro</tspan> <tspan x="261.80" textLength="84.24" lengthAdjust="spacingAndGlyphs">Titel</tspan> <tspan x="356.30" textLength="37.29" lengthAdjust="spacingAndGlyphs">in</tspan> <tspan x="403.20" textLength="48.31" lengthAdjust="spacingAndGlyphs">Fr.</tspan></text>
<text y="667.8" font-size="46"><tspan x="-0.20" textLength="140.37" lengthAdjust="spacingAndGlyphs">Gewinn</tspan> <tspan x="151.40" textLength="89.79" lengthAdjust="spacingAndGlyphs">2019</tspan></text>
<text y="667.9" font-size="46"><tspan x="985.50" textLength="96.67" lengthAdjust="spacingAndGlyphs">16.40</tspan></text>
<text y="727.6" font-size="46"><tspan x="-0.20" textLength="140.37" lengthAdjust="spacingAndGlyphs">Gewinn</tspan> <tspan x="151.40" textLength="99.87" lengthAdjust="spacingAndGlyphs">2020,</tspan> <tspan x="259.70" textLength="174.13" lengthAdjust="spacingAndGlyphs">geschätzt</tspan></text>
<text y="727.6" font-size="46"><tspan x="986.30" textLength="95.88" lengthAdjust="spacingAndGlyphs">13.20</tspan></text>
<text y="786.6" font-size="46"><tspan x="-0.20" textLength="140.37" lengthAdjust="spacingAndGlyphs">Gewinn</tspan> <tspan x="151.40" textLength="99.87" lengthAdjust="spacingAndGlyphs">2021,</tspan> <tspan x="259.70" textLength="174.13" lengthAdjust="spacingAndGlyphs">geschätzt</tspan></text>
<text y="786.6" font-size="46"><tspan x="1038.00" textLength="44.35" lengthAdjust="spacingAndGlyphs">28</tspan></text>
<text y="846.5" font-size="46"><tspan x="-0.60" textLength="188.56" lengthAdjust="spacingAndGlyphs">Dividende</tspan> <tspan x="197.10" textLength="60.61" lengthAdjust="spacingAndGlyphs">per</tspan> <tspan x="267.70" textLength="101.14" lengthAdjust="spacingAndGlyphs">2020,</tspan> <tspan x="376.70" textLength="174.93" lengthAdjust="spacingAndGlyphs">geschätzt</tspan></text>
<text y="846.5" font-size="46"><tspan x="1039.40" textLength="43.04" lengthAdjust="spacingAndGlyphs">10</tspan></text>
<text y="925.6" font-size="46" font-weight="bold" stroke="#000" stroke-width="1.0" stroke-linejoin="round"><tspan x="0.70" textLength="277.96" lengthAdjust="spacingAndGlyphs">Aktienkapital:</tspan> <tspan x="287.10" textLength="81.95" lengthAdjust="spacingAndGlyphs">0,96</tspan> <tspan x="379.30" textLength="85.18" lengthAdjust="spacingAndGlyphs">Mio.</tspan> <tspan x="473.10" textLength="47.31" lengthAdjust="spacingAndGlyphs">Fr.</tspan></text>
<text y="984.7" font-size="46"><tspan x="40.20" textLength="18.84" lengthAdjust="spacingAndGlyphs">–</tspan> <tspan x="70.90" textLength="172.13" lengthAdjust="spacingAndGlyphs">eingeteilt</tspan> <tspan x="254.70" textLength="44.03" lengthAdjust="spacingAndGlyphs">in:</tspan> <tspan x="307.50" textLength="67.13" lengthAdjust="spacingAndGlyphs">960</tspan> <tspan x="384.00" textLength="66.54" lengthAdjust="spacingAndGlyphs">500</tspan> <tspan x="459.00" textLength="70.88" lengthAdjust="spacingAndGlyphs">Inh.</tspan> <tspan x="538.23" textLength="18.43" lengthAdjust="spacingAndGlyphs">à</tspan> <tspan x="567.97" textLength="18.43" lengthAdjust="spacingAndGlyphs">1</tspan> <tspan x="600.40" textLength="42.90" lengthAdjust="spacingAndGlyphs">Fr.</tspan> <tspan x="650.60" textLength="96.19" lengthAdjust="spacingAndGlyphs">nom.</tspan></text>
<text y="1053.9" font-size="46" font-weight="bold" stroke="#000" stroke-width="1.0" stroke-linejoin="round"><tspan x="1.00" textLength="236.33" lengthAdjust="spacingAndGlyphs">Bedeutende</tspan> <tspan x="247.50" textLength="206.60" lengthAdjust="spacingAndGlyphs">Aktionäre:</tspan></text>
<text y="1053.9" font-size="46"><tspan x="460.70" textLength="87.82" lengthAdjust="spacingAndGlyphs">Fam.</tspan> <tspan x="555.20" textLength="192.40" lengthAdjust="spacingAndGlyphs">Goldkamp</tspan> <tspan x="758.80" textLength="47.62" lengthAdjust="spacingAndGlyphs">via</tspan> <tspan x="818.60" textLength="148.69" lengthAdjust="spacingAndGlyphs">Planalto</tspan></text>
<text y="1107.1" font-size="46"><tspan x="1.30" textLength="145.04" lengthAdjust="spacingAndGlyphs">(34,6%),</tspan> <tspan x="151.70" textLength="152.94" lengthAdjust="spacingAndGlyphs">Tweedy,</tspan> <tspan x="310.40" textLength="139.82" lengthAdjust="spacingAndGlyphs">Browne</tspan> <tspan x="458.90" textLength="174.54" lengthAdjust="spacingAndGlyphs">Company</tspan> <tspan x="644.70" textLength="123.80" lengthAdjust="spacingAndGlyphs">(8,5%),</tspan> <tspan x="776.34" textLength="25.76" lengthAdjust="spacingAndGlyphs">J.</tspan> <tspan x="810.20" textLength="86.57" lengthAdjust="spacingAndGlyphs">Safra</tspan> <tspan x="910.80" textLength="127.94" lengthAdjust="spacingAndGlyphs">Sarasin</tspan></text>
<text y="1161.5" font-size="46"><tspan x="0.30" textLength="307.40" lengthAdjust="spacingAndGlyphs">Investmentfonds</tspan> <tspan x="318.90" textLength="112.00" lengthAdjust="spacingAndGlyphs">(4,9%)</tspan></text>
</svg></body></html>
